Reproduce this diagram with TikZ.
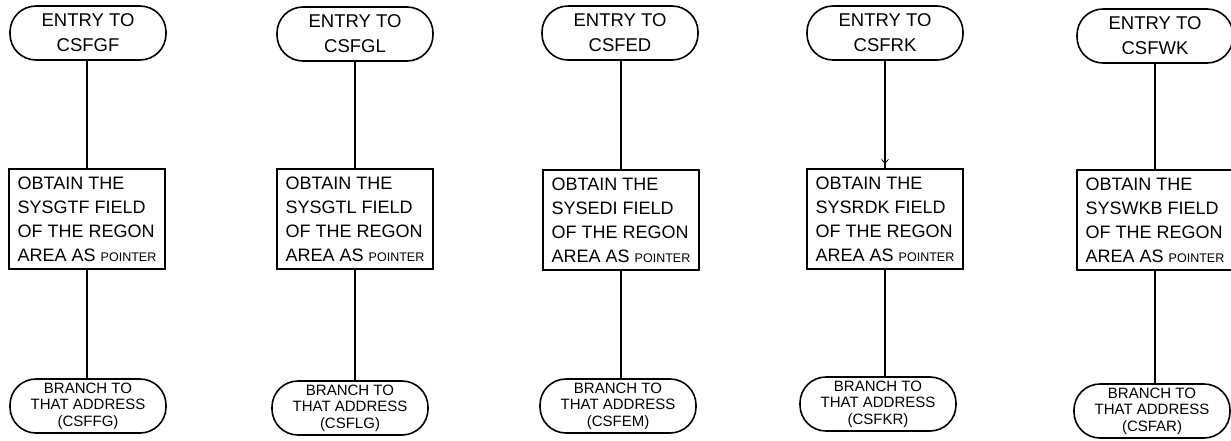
\documentclass[tikz,border=0pt]{standalone}
\usepackage{fontspec}
\setmainfont{Liberation Sans}
\usetikzlibrary{arrows.meta,decorations.markings}
\begin{document}
\begin{tikzpicture}[x=1pt,y=-1pt,
  terminal/.style={draw,line width=1.6pt,rounded corners=26pt,
    minimum width=156pt,minimum height=54pt,inner sep=0pt,align=center},
  entrytext/.style={terminal,font=\fontsize{18.5}{25}\selectfont},
  exittext/.style={terminal,font=\fontsize{15}{16.5}\selectfont},
  process/.style={draw,line width=1.6pt,minimum width=156pt,minimum height=100pt,
    inner sep=0pt,align=left,font=\fontsize{18}{24}\selectfont},
  flow/.style={line width=1.5pt},
  tick/.style={postaction={decorate,decoration={markings,
    mark=at position 0.96 with {\arrow[line width=0.8pt]{Straight Barb[length=4pt,width=7pt]}}}}}
]
\useasboundingbox[fill=white] (0,0) rectangle (1231,440);
\newcommand{\ptr}{{\fontsize{12.5}{13}\selectfont POINTER}}

% column 1
\node[entrytext] (t1) at (88,33) {ENTRY TO\\CSFGF};
\node[process]   (p1) at (87,219) {OBTAIN THE\\SYSGTF FIELD\\OF THE REGON\\AREA AS \ptr};
\node[exittext]  (e1) at (88,406) {BRANCH TO\\THAT ADDRESS\\(CSFFG)};

% column 2
\node[entrytext] (t2) at (355,34) {ENTRY TO\\CSFGL};
\node[process]   (p2) at (355,219) {OBTAIN THE\\SYSGTL FIELD\\OF THE REGON\\AREA AS \ptr};
\node[exittext]  (e2) at (350,408) {BRANCH TO\\THAT ADDRESS\\(CSFLG)};

% column 3
\node[entrytext] (t3) at (620,33) {ENTRY TO\\CSFED};
\node[process]   (p3) at (621,220) {OBTAIN THE\\SYSEDI FIELD\\OF THE REGON\\AREA AS \ptr};
\node[exittext]  (e3) at (618,406) {BRANCH TO\\THAT ADDRESS\\(CSFEM)};

% column 4
\node[entrytext] (t4) at (885,33) {ENTRY TO\\CSFRK};
\node[process]   (p4) at (885,219) {OBTAIN THE\\SYSRDK FIELD\\OF THE REGON\\AREA AS \ptr};
\node[exittext]  (e4) at (878,404) {BRANCH TO\\THAT ADDRESS\\(CSFKR)};

% column 5
\node[entrytext] (t5) at (1155,36) {ENTRY TO\\CSFWK};
\node[process]   (p5) at (1155,220) {OBTAIN THE\\SYSWKB FIELD\\OF THE REGON\\AREA AS \ptr};
\node[exittext]  (e5) at (1152,411) {BRANCH TO\\THAT ADDRESS\\(CSFAR)};

% connectors
\foreach \i in {1,2,3,5}
  \draw[flow] (t\i.south -| p\i.north) -- (p\i.north);
\draw[flow,tick] (t4.south -| p4.north) -- (p4.north);
\foreach \i in {1,...,5}
  \draw[flow] (p\i.south) -- (p\i.south |- e\i.north);
\end{tikzpicture}
\end{document}
